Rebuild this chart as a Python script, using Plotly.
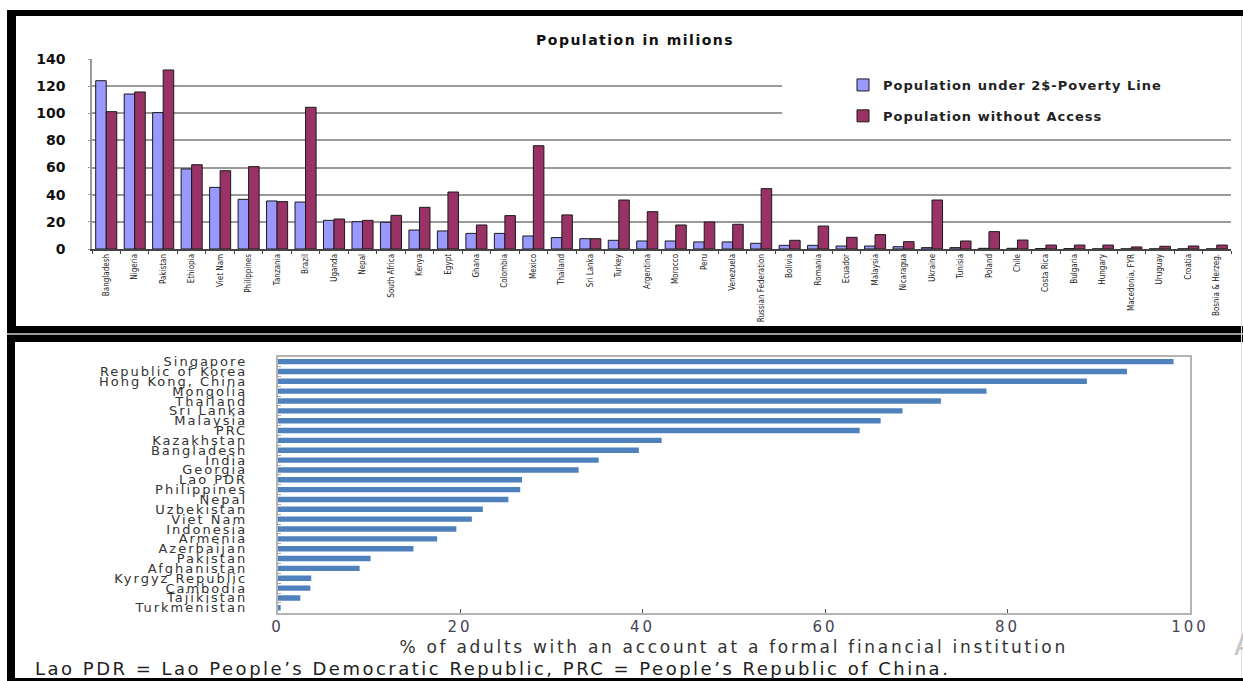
import plotly.graph_objects as go

# ---------------- data: top chart ----------------
top_countries = ["Bangladesh", "Nigeria", "Pakistan", "Ethiopia", "Viet Nam", "Philippines",
                 "Tanzania", "Brazil", "Uganda", "Nepal", "South Africa", "Kenya", "Egypt",
                 "Ghana", "Colombia", "Mexico", "Thailand", "Sri Lanka", "Turkey", "Argentina",
                 "Morocco", "Peru", "Venezuela", "Russian Federation", "Bolivia", "Romania",
                 "Ecuador", "Malaysia", "Nicaragua", "Ukraine", "Tunisia", "Poland", "Chile",
                 "Costa Rica", "Bulgaria", "Hungary", "Macedonia, FYR", "Uruguay", "Croatia",
                 "Bosnia & Herzeg."]
poverty = [124, 114.2, 100.5, 59, 45.4, 36.6, 35.4, 34.6, 21.1, 20.1, 19.7, 14.0, 13.3,
           11.5, 11.5, 9.6, 8.4, 7.6, 6.4, 5.9, 5.9, 5.2, 5.2, 4.2, 2.7, 2.7, 2.2, 2.2, 1.7,
           1.0, 1.0, 0.5, 0.5, 0.3, 0.3, 0.1, 0.1, 0.1, 0.1, 0.1]
no_access = [101.2, 115.7, 131.9, 62.1, 57.7, 60.7, 34.9, 104.4, 22.1, 21.1, 24.8, 30.7, 42.0,
             17.7, 24.6, 76.1, 25.1, 7.6, 36.1, 27.5, 17.7, 19.9, 18.2, 44.5, 6.4, 16.9, 8.6,
             10.6, 5.4, 36.1, 5.9, 12.8, 6.6, 2.9, 2.9, 2.9, 1.5, 2.0, 2.2, 2.9]
top_title = "Population in milions"
series_names = ["Population under 2$-Poverty Line", "Population without Access"]
top_yticks = [0, 20, 40, 60, 80, 100, 120, 140]

# ---------------- data: bottom chart ----------------
asia_countries = ["Singapore", "Republic of Korea", "Hong Kong, China", "Mongolia", "Thailand",
                  "Sri Lanka", "Malaysia", "PRC", "Kazakhstan", "Bangladesh", "India", "Georgia",
                  "Lao PDR", "Philippines", "Nepal", "Uzbekistan", "Viet Nam", "Indonesia",
                  "Armenia", "Azerbaijan", "Pakistan", "Afghanistan", "Kyrgyz Republic",
                  "Cambodia", "Tajikistan", "Turkmenistan"]
account_pct = [98.2, 93.1, 88.7, 77.7, 72.7, 68.5, 66.1, 63.8, 42.1, 39.6, 35.2, 33.0, 26.8,
               26.6, 25.3, 22.5, 21.3, 19.6, 17.5, 14.9, 10.2, 9.0, 3.7, 3.6, 2.5, 0.35]
bottom_xticks = [0, 20, 40, 60, 80, 100]
bottom_xtitle = "% of adults with an account at a formal financial institution"
footnote = "Lao PDR = Lao People\u2019s Democratic Republic, PRC = People\u2019s Republic of China."

W, H = 1243, 681


def px(x):
    return x / W


def py(y):
    return 1 - y / H


def spaced(text, ls):
    return '<span style="letter-spacing:%spx">%s</span>' % (ls, text)


fig = go.Figure()
fig.add_trace(go.Bar(x=top_countries, y=poverty, name=spaced(series_names[0], 1), legendgroup="a",
                     marker=dict(color="#9999FF", line=dict(color="#1a1a1a", width=1)),
                     xaxis="x", yaxis="y"))
fig.add_trace(go.Bar(x=top_countries, y=no_access, name=spaced(series_names[1], 1), legendgroup="b",
                     marker=dict(color="#993366", line=dict(color="#1a1a1a", width=1)),
                     xaxis="x", yaxis="y"))
fig.add_trace(go.Bar(x=account_pct, y=asia_countries, orientation="h", showlegend=False,
                     marker=dict(color="#4F81BD", line=dict(width=0)), width=0.55,
                     xaxis="x2", yaxis="y2"))

shapes = []
black = dict(type="rect", xref="paper", yref="paper", fillcolor="black", line=dict(width=0), layer="above")
for (x0, y0, x1, y1) in [(7, 10, 1243, 16), (7, 10, 16, 333), (7, 326, 1243, 333),
                         (7, 335, 1243, 342), (7, 335, 15, 681), (7, 678, 1243, 681)]:
    s = dict(black)
    s.update(x0=px(x0), x1=px(x1), y0=py(y1), y1=py(y0))
    shapes.append(s)
shapes.append(dict(type="rect", xref="paper", yref="paper", x0=px(7), x1=px(1243),
                   y0=py(335), y1=py(333), fillcolor="#9a9a9a", line=dict(width=0), layer="above"))
shapes.append(dict(type="line", xref="paper", yref="paper", x0=px(1241.5), x1=px(1241.5),
                   y0=py(678), y1=py(16), line=dict(color="#dddddd", width=1), layer="above"))
# legend background box hiding gridlines
shapes.append(dict(type="rect", xref="paper", yref="paper", x0=px(782), x1=px(1236),
                   y0=py(134), y1=py(68), fillcolor="white", line=dict(width=0), layer="above"))

annotations = [
    dict(text=spaced(top_title, 1.5), xref="paper", yref="paper", x=px(635), y=py(40), showarrow=False,
         font=dict(family="DejaVu Sans", size=14, color="#111", weight="bold"),
         xanchor="center", yanchor="middle"),
    dict(text=spaced(footnote, 2.5), xref="paper", yref="paper", x=px(33), y=py(668), showarrow=False,
         font=dict(family="DejaVu Sans", size=18, color="#222"), xanchor="left", yanchor="middle"),
    dict(text="A", xref="paper", yref="paper", x=px(1232), y=py(644), showarrow=False,
         font=dict(family="DejaVu Sans", size=30, color="#c8c8c8"), xanchor="left", yanchor="middle"),
]

fig.update_layout(
    width=W, height=H, margin=dict(l=0, r=0, t=0, b=0, pad=0, autoexpand=False),
    paper_bgcolor="white", plot_bgcolor="white",
    barmode="group", bargap=0.26, bargroupgap=0,
    font=dict(family="DejaVu Sans", color="#222"),
    showlegend=True,
    legend=dict(x=px(843), y=py(70), xanchor="left", yanchor="top", bgcolor="rgba(0,0,0,0)",
                font=dict(family="DejaVu Sans", size=13, color="#222", weight="bold"),
                tracegroupgap=11, itemwidth=30),
    xaxis=dict(domain=[px(92), px(1231)], anchor="y", range=[-0.5, len(top_countries) - 0.5],
               tickangle=-90, tickmode="array", tickvals=top_countries, ticktext=top_countries,
               tickfont=dict(family="DejaVu Sans Condensed, sans-serif", size=8, color="#222"),
               showline=True, linecolor="#444", linewidth=1.5, ticks="outside", ticklen=3,
               tickcolor="#444", tickson="boundaries", showgrid=False, zeroline=False,
               automargin=False),
    yaxis=dict(domain=[py(249), py(59)], anchor="x", range=[0, 140], tickvals=top_yticks,
               showgrid=True, gridcolor="#9a9a9a", gridwidth=1.5, showline=True,
               linecolor="#9a9a9a", linewidth=1.5, ticks="outside", ticklen=2, tickcolor="#9a9a9a",
               tickfont=dict(family="DejaVu Sans", size=14, color="#111", weight="bold"),
               ticklabelstandoff=20, zeroline=False, automargin=False),
    xaxis2=dict(domain=[px(277.5), px(1190)], anchor="y2", range=[0, 100],
                tickmode="array", tickvals=bottom_xticks,
                ticktext=[spaced(str(v), 3) for v in bottom_xticks],
                ticks="inside", ticklen=4, tickcolor="#555", showline=True, mirror=True,
                linecolor="#b4b4b4", linewidth=1.5, showgrid=False, zeroline=False,
                tickfont=dict(family="DejaVu Sans", size=15, color="#445"),
                title=dict(text=spaced(bottom_xtitle, 2.7),
                           font=dict(family="DejaVu Sans", size=17, color="#333"), standoff=6),
                automargin=False),
    yaxis2=dict(domain=[py(612.7), py(356.7)], anchor="x2", categoryorder="array",
                categoryarray=asia_countries, range=[len(asia_countries) - 0.5, -0.5],
                tickmode="array", tickvals=asia_countries,
                ticktext=[spaced(c, 2) for c in asia_countries],
                ticks="inside", ticklen=4, tickcolor="#aaaaaa", tickson="boundaries",
                showline=True, mirror=True, linecolor="#b4b4b4", linewidth=1.5, showgrid=False,
                zeroline=False, tickfont=dict(family="DejaVu Sans", size=13, color="#333"),
                ticklabelstandoff=26, automargin=False),
    shapes=shapes, annotations=annotations,
)

fig.write_html("out.html")
